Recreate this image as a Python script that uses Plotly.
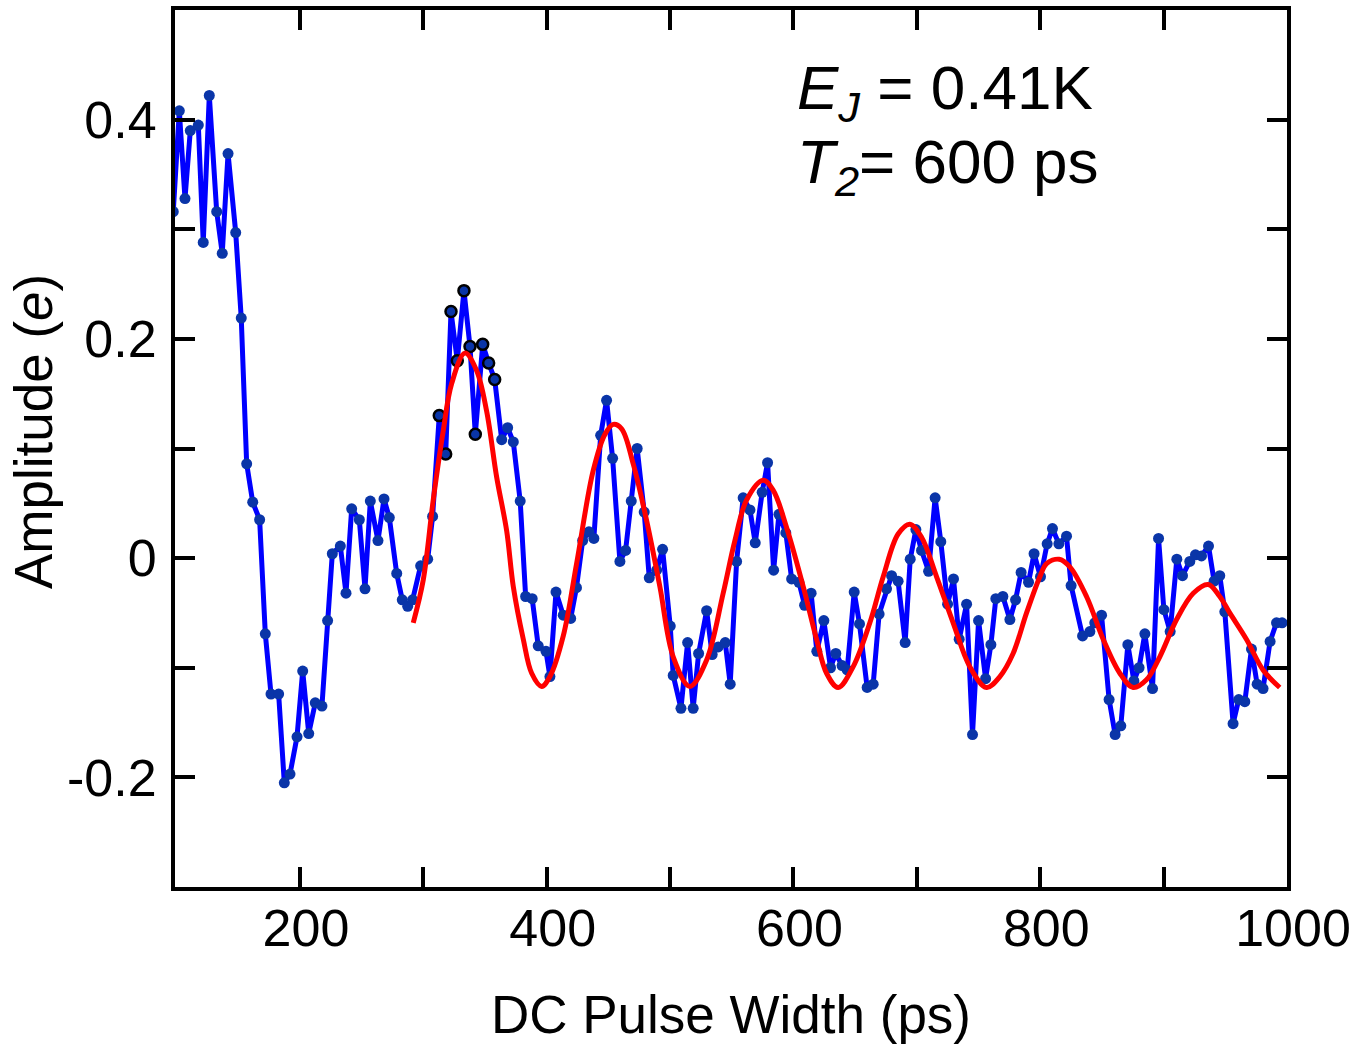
import plotly.graph_objects as go

# ---- data ----
pulse_width = [97.3, 102.2, 106.8, 111.1, 117.6, 121.6, 126.5, 132.5, 137.0, 141.7,
               147.9, 152.4, 156.8, 161.7, 167.3, 171.9, 176.5, 182.7, 187.3, 191.9,
               197.6, 202.2, 207.1, 212.4, 217.8, 222.4, 226.2, 232.7, 237.3, 241.9,
               248.1, 252.7, 257.0, 263.2, 268.1, 272.4, 278.4, 282.9, 287.3, 291.3,
               297.8, 303.5, 307.5, 312.9, 318.1, 322.4, 327.5, 332.9, 337.8, 342.1,
               348.1, 352.9, 357.8, 363.5, 368.3, 372.9, 378.5, 382.9, 388.2, 393.1,
               399.4, 402.6, 407.5, 413.4, 419.4, 424.1, 429.1, 434.2, 438.2, 443.7,
               448.5, 453.4, 459.3, 463.9, 468.5, 473.3, 479.0, 483.1, 489.1, 493.9,
               500.1, 502.5, 508.8, 514.2, 518.7, 523.1, 529.6, 534.1, 539.0, 544.7,
               548.7, 553.9, 559.2, 564.7, 569.0, 574.6, 579.0, 583.9, 588.2, 593.8,
               598.5, 604.4, 609.0, 614.3, 618.9, 624.6, 630.0, 634.3, 639.4, 643.5,
               649.2, 653.5, 659.7, 664.6, 669.4, 675.4, 679.5, 684.8, 690.5, 694.6,
               699.2, 703.8, 709.5, 714.8, 719.4, 724.9, 729.7, 734.3, 740.3, 745.1,
               750.0, 755.7, 760.0, 764.0, 769.7, 775.4, 780.0, 784.5, 790.5, 795.0,
               800.2, 805.6, 809.9, 815.1, 821.3, 825.0, 834.3, 840.2, 844.2, 849.7,
               855.8, 860.7, 865.3, 871.0, 875.9, 880.1, 884.8, 891.0, 895.9, 900.2,
               905.3, 910.7, 915.3, 921.2, 925.8, 930.7, 936.4, 940.9, 945.5, 949.6,
               956.3, 960.9, 965.8, 971.2, 975.8, 980.6, 986.3, 991.5, 996.0]
amplitude = [0.316, 0.408, 0.328, 0.390, 0.395, 0.288, 0.422, 0.316, 0.278, 0.369,
             0.297, 0.219, 0.086, 0.051, 0.035, -0.069, -0.124, -0.124, -0.205, -0.197,
             -0.163, -0.103, -0.160, -0.132, -0.135, -0.057, 0.004, 0.011, -0.032, 0.045,
             0.035, -0.028, 0.052, 0.016, 0.054, 0.037, -0.014, -0.038, -0.044, -0.038,
             -0.007, -0.001, 0.038, 0.130, 0.095, 0.225, 0.180, 0.244, 0.193, 0.113,
             0.195, 0.178, 0.163, 0.108, 0.119, 0.106, 0.052, -0.035, -0.037, -0.080,
             -0.085, -0.108, -0.031, -0.052, -0.055, -0.027, 0.016, 0.024, 0.018, 0.112,
             0.144, 0.091, -0.003, 0.007, 0.052, 0.100, 0.042, -0.018, -0.011, 0.008,
             -0.062, -0.107, -0.137, -0.077, -0.137, -0.087, -0.048, -0.088, -0.081, -0.077,
             -0.115, -0.003, 0.055, 0.044, 0.014, 0.060, 0.087, -0.011, 0.040, 0.023,
             -0.019, -0.022, -0.043, -0.032, -0.085, -0.057, -0.100, -0.087, -0.098, -0.102,
             -0.031, -0.060, -0.118, -0.115, -0.051, -0.028, -0.016, -0.021, -0.077, -0.001,
             0.026, 0.007, -0.012, 0.055, 0.015, -0.042, -0.019, -0.074, -0.042, -0.161,
             -0.057, -0.110, -0.079, -0.037, -0.035, -0.056, -0.038, -0.013, -0.022, 0.004,
             -0.017, 0.013, 0.027, 0.013, 0.020, -0.025, -0.071, -0.067, -0.059, -0.052,
             -0.129, -0.161, -0.153, -0.079, -0.112, -0.100, -0.069, -0.119, 0.018, -0.047,
             -0.067, -0.001, -0.016, -0.003, 0.003, 0.002, 0.011, -0.021, -0.016, -0.049,
             -0.151, -0.129, -0.131, -0.083, -0.115, -0.119, -0.076, -0.059, -0.059]
# indices of the points drawn with a black outline
highlighted = list(range(43, 53))

fit_width = [291.8, 299.9, 308.0, 316.1, 322.9, 333.7, 343.2, 351.3, 359.4, 367.5,
             372.9, 381.0, 387.8, 395.9, 402.6, 413.4, 424.2, 437.7, 447.2, 453.9,
             460.7, 470.1, 481.0, 491.7, 502.5, 516.0, 529.6, 543.0, 552.5, 562.0,
             575.4, 583.5, 594.4, 607.9, 618.7, 626.8, 636.2, 648.4, 661.9, 672.7,
             684.8, 694.3, 703.8, 716.0, 729.4, 742.9, 756.5, 767.3, 778.0, 788.9,
             799.7, 805.1, 815.3, 824.0, 837.5, 851.0, 864.5, 875.3, 886.1, 896.9,
             910.5, 924.0, 936.1, 945.5, 953.6, 967.1, 980.6, 994.1]
fit_amplitude = [-0.059, -0.020, 0.053, 0.116, 0.159, 0.187, 0.171, 0.134, 0.074, 0.025,
                 -0.026, -0.074, -0.105, -0.117, -0.108, -0.071, -0.005, 0.080, 0.113, 0.122,
                 0.118, 0.086, 0.034, -0.026, -0.090, -0.117, -0.093, -0.032, 0.016, 0.053,
                 0.071, 0.062, 0.028, -0.026, -0.074, -0.105, -0.118, -0.099, -0.059, -0.017,
                 0.022, 0.031, 0.019, -0.017, -0.059, -0.099, -0.118, -0.108, -0.087, -0.050,
                 -0.017, -0.005, -0.001, -0.008, -0.035, -0.074, -0.105, -0.118, -0.111, -0.090,
                 -0.056, -0.032, -0.024, -0.035, -0.050, -0.074, -0.102, -0.118]

x_tickvals = [200, 300, 400, 500, 600, 700, 800, 900, 1000]
x_ticktext = ["200", "", "400", "", "600", "", "800", "", "1000"]
y_tickvals = [-0.3, -0.2, -0.1, 0.0, 0.1, 0.2, 0.3, 0.4, 0.5]
y_ticktext = ["", "-0.2", "", "0", "", "0.2", "", "0.4", ""]

x_title = "DC Pulse Width (ps)"
y_title = "Amplitude (<i>e</i>)"
label_line1 = "<i>E</i><sub><i>J</i></sub> = 0.41K"
label_line2 = "<i>T</i><sub><i>2</i></sub>= 600 ps"

FONT = "Liberation Sans, Arial, sans-serif"

edge_colors = ["black" if i in highlighted else "#0a2fa0" for i in range(len(amplitude))]
edge_widths = [2.5 if i in highlighted else 0 for i in range(len(amplitude))]

fig = go.Figure()
fig.add_trace(go.Scatter(
    x=pulse_width, y=amplitude, mode="lines+markers",
    line=dict(color="#0000ff", width=5),
    marker=dict(size=11, color="#0a35a8", line=dict(color=edge_colors, width=edge_widths)),
    showlegend=False, hoverinfo="skip"))
fig.add_trace(go.Scatter(
    x=fit_width, y=fit_amplitude, mode="lines",
    line=dict(color="#ff0000", width=5, shape="spline", smoothing=1.0),
    showlegend=False, hoverinfo="skip"))

axis_common = dict(
    showline=True, linecolor="black", linewidth=4, mirror="allticks",
    ticks="inside", ticklen=20, tickwidth=4, tickcolor="black",
    showgrid=False, zeroline=False,
    tickfont=dict(family=FONT, size=52, color="black"),
)

fig.update_layout(
    width=1361, height=1047,
    margin=dict(l=175, r=74, t=10, b=160, autoexpand=False),
    plot_bgcolor="white", paper_bgcolor="white",
    xaxis=dict(range=[98.7, 1000], tickmode="array", tickvals=x_tickvals,
               ticktext=x_ticktext, ticklabelstandoff=-7, ticklabelshift=6,
               title=dict(text=x_title, standoff=40,
                          font=dict(family=FONT, size=53, color="black")),
               **axis_common),
    yaxis=dict(range=[-0.3, 0.5], tickmode="array", tickvals=y_tickvals,
               ticktext=y_ticktext, ticklabelstandoff=4,
               **axis_common),
    annotations=[
        dict(x=(33 - 175) / 1112, y=1 - (432 - 10) / 877, xref="paper", yref="paper",
             xanchor="center", yanchor="middle", textangle=-90, showarrow=False,
             text=y_title, font=dict(family=FONT, size=53, color="black")),
        dict(x=0.558, y=0.953, xref="paper", yref="paper", xanchor="left", yanchor="top",
             showarrow=False, align="left", text=label_line1,
             font=dict(family=FONT, size=62, color="black")),
        dict(x=0.558, y=0.869, xref="paper", yref="paper", xanchor="left", yanchor="top",
             showarrow=False, align="left", text=label_line2,
             font=dict(family=FONT, size=62, color="black")),
    ],
)

fig.write_html("out.html")
